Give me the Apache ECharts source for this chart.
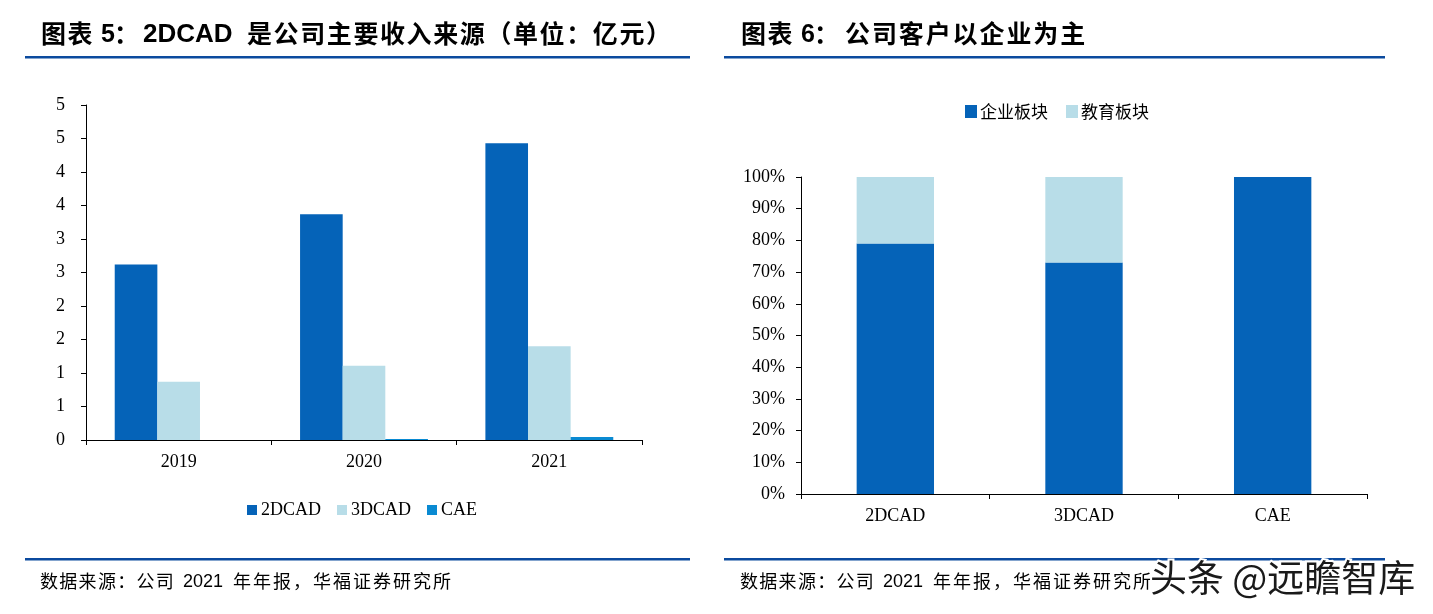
<!DOCTYPE html>
<html>
<head>
<meta charset="utf-8">
<script src="https://cdn.jsdelivr.net/npm/echarts@6/dist/echarts.min.js"></script>
<style>
html,body{margin:0;padding:0;background:#fff;}
#c{width:1433px;height:614px;}
</style>
</head>
<body>
<div id="c"></div>
<script>
// Chart 5 data (亿元)
const years = ['2019', '2020', '2021'];
const rev2DCAD = [2.62, 3.37, 4.43];
const rev3DCAD = [0.87, 1.11, 1.40];
const revCAE = [0.00, 0.015, 0.045];
const leftYTickLabels = ['0', '1', '1', '2', '2', '3', '3', '4', '4', '5', '5'];

// Chart 6 data (share)
const products = ['2DCAD', '3DCAD', 'CAE'];
const enterpriseShare = [0.79, 0.73, 1.00];
const educationShare = [0.21, 0.27, 0.00];

const C_DARK = '#0563B8';
const C_LIGHT = '#B8DDE8';
const C_CAE = '#0A8AD2';
const LINE = '#0B4A9E';

const serif = '"Liberation Serif", "Times New Roman", serif';
const cjk = '"Noto Sans CJK SC", sans-serif';
const sans = '"Liberation Sans", Arial, sans-serif';

// spaced text helper: places each character at a fixed advance
function spaced(text, x, y, adv, font, fill) {
  const out = [];
  Array.from(text).forEach((ch, i) => {
    out.push({type: 'text', x: x + i * adv, y: y, z: 50,
      style: {text: ch, font: font, fill: fill || '#000', textVerticalAlign: 'middle'}});
  });
  return out;
}
function plain(text, x, y, font, fill) {
  return [{type: 'text', x: x, y: y, z: 50,
    style: {text: text, font: font, fill: fill || '#000', textVerticalAlign: 'middle'}}];
}

const titleFontCJK = 'bold 25px ' + cjk;
const titleFontLat = 'bold 25px ' + sans;
const srcFontCJK = '18px ' + cjk;
const srcFontLat = '18px ' + sans;

let graphics = [];
// Title 5
graphics = graphics.concat(
  spaced('图表', 41, 33, 26.6, titleFontCJK),
  plain('5', 101, 35, titleFontLat),
  plain('：', 114, 33, titleFontCJK),
  plain('2DCAD', 143, 35, 'bold 26px ' + sans),
  spaced('是公司主要收入来源（单位：亿元）', 247, 33, 26.6, titleFontCJK)
);
// Title 6
graphics = graphics.concat(
  spaced('图表', 741, 33, 26.6, titleFontCJK),
  plain('6', 801, 35, titleFontLat),
  plain('：', 814, 33, titleFontCJK),
  spaced('公司客户以企业为主', 845, 33, 26.9, titleFontCJK)
);
// Sources
[0, 700].forEach(dx => {
  graphics = graphics.concat(
    spaced('数据来源：公司', 40 + dx, 581, 19.3, srcFontCJK),
    plain('2021', 183 + dx, 582, srcFontLat),
    spaced('年年报，华福证券研究所', 233 + dx, 581, 20, srcFontCJK)
  );
});
// Rules
graphics.push(
  {type: 'rect', shape: {x: 25, y: 56, width: 665, height: 2.5}, style: {fill: LINE}},
  {type: 'rect', shape: {x: 724, y: 56, width: 661, height: 2.5}, style: {fill: LINE}},
  {type: 'rect', shape: {x: 25, y: 558, width: 665, height: 2.5}, style: {fill: LINE}},
  {type: 'rect', shape: {x: 724, y: 558, width: 661, height: 2.5}, style: {fill: LINE}},
  {type: 'text', x: 1150, y: 578, z: 100,
    style: {text: '头条 @远瞻智库', font: '37px ' + cjk, fill: '#1a1a1a', stroke: '#fff', lineWidth: 4, textVerticalAlign: 'middle'}}
);

const chart = echarts.init(document.getElementById('c'), null, {renderer: 'canvas'});

const option = {
  animation: false,
  backgroundColor: '#fff',
  grid: [
    {left: 86, top: 105, width: 556, height: 335},
    {left: 801, top: 177, width: 566, height: 317}
  ],
  legend: [
    {
      data: ['2DCAD', '3DCAD', 'CAE'],
      left: 242, top: 496,
      itemWidth: 10, itemHeight: 10, itemGap: 16,
      icon: 'rect',
      textStyle: {fontFamily: serif, fontSize: 18, color: '#000', padding: [0, 0, 0, -1]}
    },
    {
      data: ['企业板块', '教育板块'],
      left: 960, top: 98,
      itemWidth: 12, itemHeight: 13, itemGap: 18,
      icon: 'rect',
      textStyle: {fontFamily: cjk, fontSize: 17, color: '#000', padding: [0, 0, 0, -2]}
    }
  ],
  xAxis: [
    {
      type: 'category', gridIndex: 0, data: years,
      axisLine: {lineStyle: {color: '#000', width: 1}},
      axisTick: {show: true, length: 5, lineStyle: {color: '#000'}},
      axisLabel: {fontFamily: serif, fontSize: 18, color: '#000', margin: 13}
    },
    {
      type: 'category', gridIndex: 1, data: products,
      axisLine: {lineStyle: {color: '#000', width: 1}},
      axisTick: {show: true, length: 5, lineStyle: {color: '#000'}},
      axisLabel: {fontFamily: serif, fontSize: 18, color: '#000', margin: 13}
    }
  ],
  yAxis: [
    {
      type: 'value', gridIndex: 0, min: 0, max: 5, interval: 0.5,
      axisLine: {show: true, lineStyle: {color: '#000', width: 1}},
      axisTick: {show: true, length: 5, lineStyle: {color: '#000'}},
      splitLine: {show: false},
      axisLabel: {
        fontFamily: serif, fontSize: 18, color: '#000', margin: 21,
        formatter: v => leftYTickLabels[Math.round(v / 0.5)]
      }
    },
    {
      type: 'value', gridIndex: 1, min: 0, max: 1, interval: 0.1,
      axisLine: {show: true, lineStyle: {color: '#000', width: 1}},
      axisTick: {show: true, length: 5, lineStyle: {color: '#000'}},
      splitLine: {show: false},
      axisLabel: {
        fontFamily: serif, fontSize: 18, color: '#000', margin: 16,
        formatter: v => Math.round(v * 100) + '%'
      }
    }
  ],
  series: [
    {name: '2DCAD', type: 'bar', xAxisIndex: 0, yAxisIndex: 0, data: rev2DCAD,
      itemStyle: {color: C_DARK}, barGap: '0%', barCategoryGap: '31%'},
    {name: '3DCAD', type: 'bar', xAxisIndex: 0, yAxisIndex: 0, data: rev3DCAD,
      itemStyle: {color: C_LIGHT}, barGap: '0%', barCategoryGap: '31%'},
    {name: 'CAE', type: 'bar', xAxisIndex: 0, yAxisIndex: 0, data: revCAE,
      itemStyle: {color: C_CAE}, barGap: '0%', barCategoryGap: '31%'},
    {name: '企业板块', type: 'bar', xAxisIndex: 1, yAxisIndex: 1, stack: 'share',
      data: enterpriseShare, itemStyle: {color: C_DARK}, barWidth: '41%'},
    {name: '教育板块', type: 'bar', xAxisIndex: 1, yAxisIndex: 1, stack: 'share',
      data: educationShare, itemStyle: {color: C_LIGHT}, barWidth: '41%'}
  ],
  graphic: graphics
};
chart.setOption(option);
</script>
</body>
</html>
